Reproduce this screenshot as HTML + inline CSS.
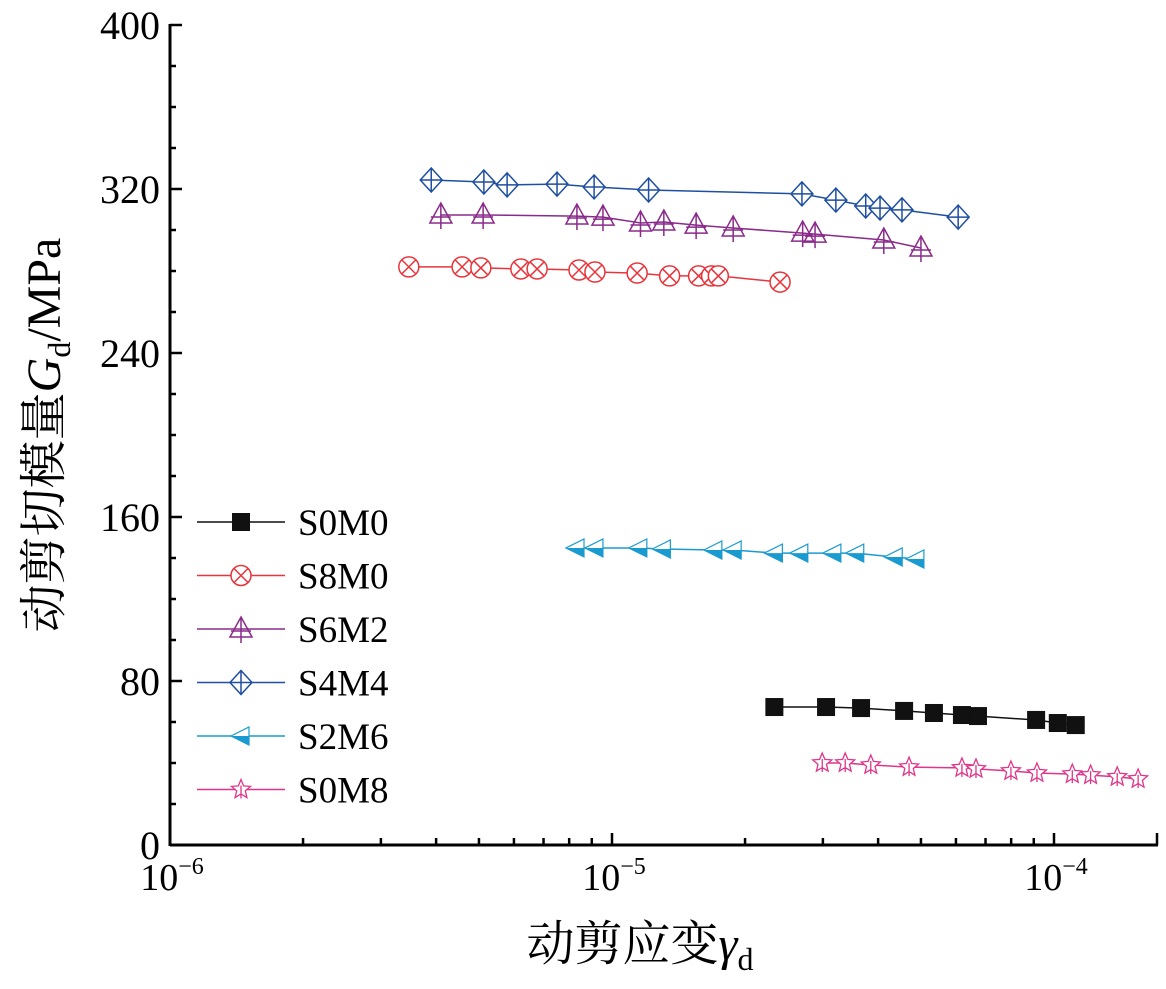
<!DOCTYPE html>
<html><head><meta charset="utf-8"><style>
html,body{margin:0;padding:0;background:#fff;}
svg{display:block;font-family:"Liberation Serif","Noto Serif CJK SC",serif;}
</style></head><body>
<svg id="chart" width="1166" height="989" viewBox="0 0 1166 989" xmlns="http://www.w3.org/2000/svg">
<g id="axes"></g>
<g id="series"></g>
<g id="legend"></g>
<text x="640" y="960" font-size="48" text-anchor="middle" font-family="Liberation Serif, Noto Serif CJK SC, serif">动剪应变<tspan font-style="italic">γ</tspan><tspan font-size="32" dy="10">d</tspan></text>
<text transform="translate(60,435) rotate(-90)" font-size="48" text-anchor="middle" font-family="Liberation Serif, Noto Serif CJK SC, serif">动剪切模量<tspan font-style="italic" font-family="Liberation Serif, serif">G</tspan><tspan font-size="32" dy="10">d</tspan><tspan dy="-10">/MPa</tspan></text>
</svg>
<script>
const seriesNames = ["S0M0","S8M0","S6M2","S4M4","S2M6","S0M8"];
const colors = ["#111111","#e8343a","#8a2a8a","#1f4fa0","#1a9bd0","#e0358a"];
const strainS0M0 = [2.33e-5,3.05e-5,3.66e-5,4.58e-5,5.35e-5,6.19e-5,6.73e-5,9.11e-5,1.02e-4,1.12e-4];
const gS0M0 = [67.3,67.3,66.8,65.4,64.4,63.4,62.9,61,59.5,58.5];
const strainS8M0 = [3.47e-6,4.58e-6,5.05e-6,6.22e-6,6.77e-6,8.42e-6,9.15e-6,1.14e-5,1.35e-5,1.57e-5,1.68e-5,1.74e-5,2.40e-5];
const gS8M0 = [282,282,281.5,281,281,280.5,279.5,279,277.6,277.6,277.6,277.6,274.6];
const strainS6M2 = [4.10e-6,5.11e-6,8.33e-6,9.54e-6,1.16e-5,1.31e-5,1.55e-5,1.88e-5,2.70e-5,2.88e-5,4.12e-5,5.00e-5];
const gS6M2 = [307.3,307.3,306.8,306.3,303.4,303.9,302.4,301,298.5,298,295.1,291.2];
const strainS4M4 = [3.90e-6,5.13e-6,5.79e-6,7.51e-6,9.11e-6,1.21e-5,2.69e-5,3.21e-5,3.75e-5,4.04e-5,4.53e-5,6.07e-5];
const gS4M4 = [324.4,323.4,322,322.4,321,319.5,317.6,314.6,311.7,310.7,309.8,306.3];
const strainS2M6 = [8.29e-6,9.15e-6,1.15e-5,1.30e-5,1.70e-5,1.88e-5,2.33e-5,2.66e-5,3.16e-5,3.56e-5,4.35e-5,4.87e-5];
const gS2M6 = [144.9,144.9,144.9,144.4,143.9,143.9,142.4,142.4,142.4,142.4,140.5,139.5];
const strainS0M8 = [2.99e-5,3.37e-5,3.85e-5,4.70e-5,6.19e-5,6.66e-5,7.99e-5,9.15e-5,1.10e-4,1.21e-4,1.39e-4,1.55e-4];
const gS0M8 = [40,40,39,38,37.6,37.1,36.1,35.1,34.6,34.1,33.2,32.2];
const yTicks = [0,80,160,240,320,400];
const xDecades = [-6,-5,-4];

const NS="http://www.w3.org/2000/svg";
const X0=170, DEC=442, Y0=845, YS=2.05;
function xs(v){return X0+(Math.log10(v)+6)*DEC;}
function ys(v){return Y0-v*YS;}
function mk(tag,attrs,parent){const e=document.createElementNS(NS,tag);for(const k in attrs)e.setAttribute(k,attrs[k]);parent.appendChild(e);return e;}
const axes=document.getElementById('axes');
let l=mk('line',{x1:X0,y1:Y0,x2:1158,y2:Y0,stroke:'#000','stroke-width':3},axes);


l=mk('line',{x1:X0,y1:Y0+1,x2:X0,y2:ys(400)-1,stroke:'#000','stroke-width':3},axes);


for(let v=0;v<=400;v+=20){
  const major=yTicks.includes(v);
  const t=mk('line',{x1:X0,y1:ys(v),x2:X0+(major?12:6),y2:ys(v),stroke:'#000','stroke-width':2.5},axes);
  
  
}
yTicks.forEach(v=>{
  const t=mk('text',{x:160,y:ys(v)+14,'font-size':40,'text-anchor':'end'},axes);
  t.textContent=v;
  
  
});
for(let d=-6;d<=-4;d++){
  for(let m=1;m<=9;m++){
    const v=m*Math.pow(10,d); const x=xs(v);
    if(x>1158)break;
    const t=mk('line',{x1:x,y1:Y0,x2:x,y2:Y0-(m===1?12:7),stroke:'#000','stroke-width':2.5},axes);
    
    
  }
}
let te=mk('line',{x1:1157,y1:Y0,x2:1157,y2:Y0-12,stroke:'#000','stroke-width':2.5},axes);


xDecades.forEach(d=>{
  const t=mk('text',{x:xs(Math.pow(10,d))+2,y:890,'font-size':38,'text-anchor':'middle'},axes);
  t.innerHTML='10<tspan font-size="24" dy="-16">'+(d<0?'\u2212'+(-d):d)+'</tspan>';
  
  
});
function marker(type,x,y,c,g){
  const s='stroke-width';
  if(type==='square'){mk('rect',{x:x-9,y:y-9,width:18,height:18,fill:c},g);}
  else if(type==='circ'){mk('circle',{cx:x,cy:y,r:10,fill:'#fff',stroke:c,[s]:1.5},g);
    mk('path',{d:`M${x-7} ${y-7}L${x+7} ${y+7}M${x+7} ${y-7}L${x-7} ${y+7}`,stroke:c,[s]:1.5},g);}
  else if(type==='tri'){mk('path',{d:`M${x} ${y-12}L${x+11} ${y+8}L${x-11} ${y+8}Z M${x} ${y-12}L${x} ${y+14}M${x-10} ${y+2}L${x+10} ${y+2}`,fill:'none',stroke:c,[s]:1.5},g);}
  else if(type==='dia'){mk('path',{d:`M${x} ${y-12}L${x+11} ${y}L${x} ${y+12}L${x-11} ${y}Z M${x} ${y-12}L${x} ${y+12}M${x-11} ${y}L${x+11} ${y}`,fill:'#fff',stroke:c,[s]:1.5},g);}
  else if(type==='ltri'){mk('path',{d:`M${x-10} ${y}L${x+8} ${y-9}L${x+8} ${y+9}Z`,fill:'#fff',stroke:c,[s]:1.2},g);
    mk('path',{d:`M${x-10} ${y}L${x+8} ${y}L${x+8} ${y+9}Z`,fill:c},g);}
  else if(type==='star'){let p='';for(let i=0;i<10;i++){const r=i%2?4.5:10,a=-Math.PI/2+i*Math.PI/5;p+=(i?'L':'M')+(x+r*Math.cos(a)).toFixed(1)+' '+(y+r*Math.sin(a)).toFixed(1);}
    mk('path',{d:p+'Z M'+x+' '+(y-4)+'L'+x+' '+(y+9),fill:'#fff',stroke:c,[s]:1.3},g);}
}
const types=['square','circ','tri','dia','ltri','star'];
const dataX=[strainS0M0,strainS8M0,strainS6M2,strainS4M4,strainS2M6,strainS0M8];
const dataY=[gS0M0,gS8M0,gS6M2,gS4M4,gS2M6,gS0M8];
const sg=document.getElementById('series');
seriesNames.forEach((n,i)=>{
  const g=mk('g',{},sg);
  
  
  const pts=dataX[i].map((v,j)=>xs(v).toFixed(1)+','+ys(dataY[i][j]).toFixed(1)).join(' ');
  mk('polyline',{points:pts,fill:'none',stroke:colors[i],'stroke-width':1.5},g);
  dataX[i].forEach((v,j)=>marker(types[i],xs(v),ys(dataY[i][j]),colors[i],g));
});
const lg=document.getElementById('legend');
seriesNames.forEach((n,i)=>{
  const y=522+i*53.5;
  const g=mk('g',{},lg);
  
  
  mk('line',{x1:197,y1:y,x2:285,y2:y,stroke:colors[i],'stroke-width':1.5},g);
  marker(types[i],241,y,colors[i],g);
  const t=mk('text',{x:298,y:y+13,'font-size':37},g);
  t.textContent=n;
});
</script>
</body></html>
